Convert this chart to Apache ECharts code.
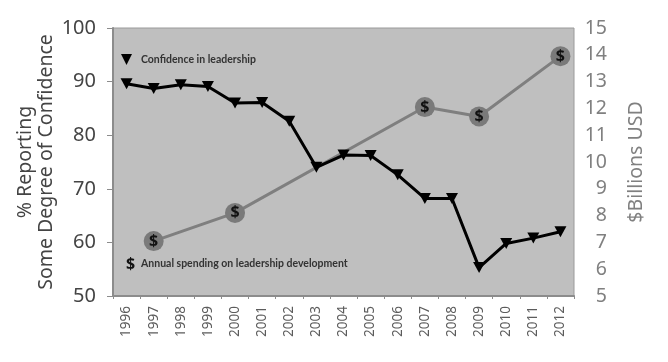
<!DOCTYPE html>
<html>
<head>
<meta charset="utf-8">
<script src="https://cdn.jsdelivr.net/npm/echarts@6/dist/echarts.min.js"></script>
<style>
html, body { margin: 0; padding: 0; background: #fff; }
#main { width: 668px; height: 362px; }
</style>
</head>
<body>
<div id="main"></div>
<script>
const years = ['1996','1997','1998','1999','2000','2001','2002','2003','2004','2005','2006','2007','2008','2009','2010','2011','2012'];
const confidence = [89.6,88.7,89.4,89.1,86,86.1,82.6,74,76.3,76.2,72.6,68.2,68.2,55.3,59.8,60.8,62];
// spending only has values for some years, the line joins them
const spending = [null,7.05,null,null,8.1,null,null,null,null,null,null,12.05,null,11.7,null,null,13.95];
const leftTicks = { min: 50, max: 100, interval: 10 };
const rightTicks = { min: 5, max: 15, interval: 1 };

const sansFont = '"Noto Sans", "Open Sans", sans-serif';
const legendFont = 'Lato, sans-serif';

const chart = echarts.init(document.getElementById('main'));

chart.setOption({
  animation: false,
  backgroundColor: '#fff',
  textStyle: { fontFamily: sansFont },
  grid: {
    show: true,
    left: 113, right: 94, top: 28, bottom: 66,
    outerBoundsMode: 'none',
    backgroundColor: '#bfbfbf',
    borderColor: '#9a9a9a',
    borderWidth: 1
  },
  legend: [
    {
      left: 121, top: 54,
      padding: 0,
      itemWidth: 13, itemHeight: 11, itemGap: 0,
      data: [{ name: 'Confidence in leadership', icon: 'path://M0,0L10,0L5,10Z' }],
      textStyle: { color: '#333', fontFamily: legendFont, fontWeight: 'bold', fontSize: 10.5, padding: [0, 0, 0, 3] }
    },
    {
      left: 121, top: 256,
      padding: 0,
      itemWidth: 0, itemHeight: 0, itemGap: 0,
      data: [{ name: 'Annual spending on leadership development', icon: 'none' }],
      formatter: n => '{s|$}{t|' + n + '}',
      textStyle: {
        rich: {
          s: { color: '#111', fontFamily: sansFont, fontWeight: 'bold', fontSize: 16, width: 15 },
          t: { color: '#333', fontFamily: legendFont, fontWeight: 'bold', fontSize: 10.5 }
        }
      }
    }
  ],
  xAxis: {
    type: 'category',
    data: years,
    axisLine: { lineStyle: { color: '#8c8c8c', width: 2 } },
    axisTick: { show: true, alignWithLabel: false, length: 3, lineStyle: { color: '#8c8c8c' } },
    axisLabel: { rotate: 90, interval: 0, color: '#5c5c5c', fontSize: 13.5, margin: 10, fontFamily: sansFont }
  },
  yAxis: [
    {
      type: 'value',
      min: leftTicks.min, max: leftTicks.max, interval: leftTicks.interval,
      name: '% Reporting\nSome Degree of Confidence',
      nameLocation: 'middle',
      nameGap: 56,
      nameMoveOverlap: false,
      nameRotate: 90,
      nameTextStyle: { color: '#444', fontSize: 19.5, lineHeight: 21, fontFamily: sansFont },
      splitLine: { show: false },
      axisLine: { show: true, lineStyle: { color: '#8c8c8c', width: 2 } },
      axisTick: { show: true, length: 6, lineStyle: { color: '#8c8c8c' } },
      axisLabel: { color: '#444', fontSize: 20, margin: 17, fontFamily: sansFont }
    },
    {
      type: 'value',
      position: 'right',
      min: rightTicks.min, max: rightTicks.max, interval: rightTicks.interval,
      name: '$Billions USD',
      nameLocation: 'middle',
      nameGap: 52,
      nameMoveOverlap: false,
      nameRotate: 90,
      nameTextStyle: { color: '#808080', fontSize: 19.5, fontFamily: sansFont },
      splitLine: { show: false },
      axisLine: { show: false },
      axisTick: { show: false },
      axisLabel: { color: '#808080', fontSize: 19.5, margin: 33, align: 'right', fontFamily: sansFont }
    }
  ],
  series: [
    {
      name: 'Annual spending on leadership development',
      type: 'line',
      yAxisIndex: 1,
      data: spending,
      connectNulls: true,
      lineStyle: { color: '#7f7f7f', width: 3 },
      itemStyle: { color: '#7a7a7a' },
      symbol: 'circle',
      symbolSize: 20,
      label: {
        show: true, position: 'inside', formatter: '$',
        color: '#111', fontSize: 16, fontWeight: 'bold', fontFamily: sansFont
      }
    },
    {
      name: 'Confidence in leadership',
      type: 'line',
      data: confidence,
      lineStyle: { color: '#000', width: 3 },
      itemStyle: { color: '#000' },
      symbol: 'path://M0,0L10,0L5,10Z',
      symbolSize: [12, 11]
    }
  ]
});
</script>
</body>
</html>
